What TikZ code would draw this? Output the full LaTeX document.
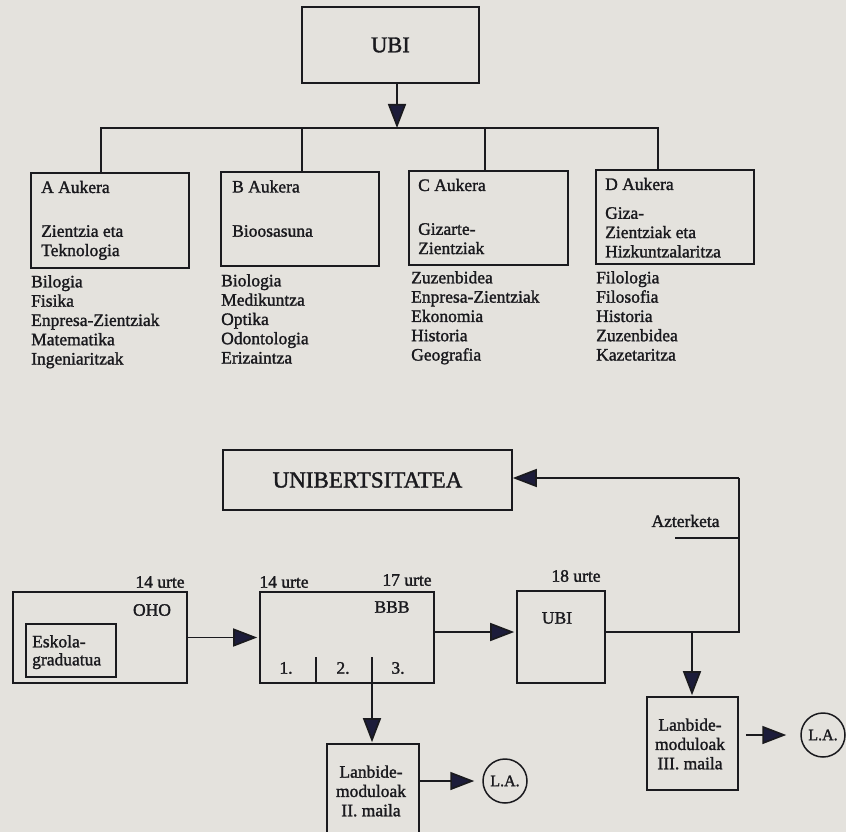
\documentclass[tikz,border=0pt]{standalone}
\usepackage{fontspec}
\setmainfont{Liberation Serif}
\newfontfamily\medserif{Liberation Serif}[FakeBold=1.5]
\usetikzlibrary{arrows.meta, calc}

\definecolor{paper}{RGB}{228,226,221}
\definecolor{ink}{RGB}{26,26,30}
\definecolor{navy}{RGB}{28,28,58}

\newcommand{\txtsize}{\medserif\fontsize{17.5}{19.3}\selectfont}

\tikzset{
  box/.style={draw=ink, line width=1.6pt, inner sep=0pt},
  txt/.style={inner sep=0pt, text=ink, font=\txtsize, align=left},
  conn/.style={draw=ink, line width=1.7pt},
  bus/.style={draw=ink, line width=2.8pt},
  arr/.style={conn, -{Triangle[length=24pt, width=18pt, fill=navy]}},
  lacircle/.style={circle, draw=ink, line width=1.5pt, minimum size=44pt, inner sep=0pt, text=ink, font=\medserif\fontsize{16}{18}\selectfont},
}

\begin{document}
\begin{tikzpicture}[x=1pt, y=-1pt]
    \useasboundingbox (0,0) rectangle (846,832);
    \clip (0,0) rectangle (846,832);
    \fill[paper] (0,0) rectangle (846,832);

    % UBI and the four Aukera
    \path (390.5,45) node[box, minimum width=177pt, minimum height=76pt, text=ink, font=\medserif\fontsize{22.5}{26}\selectfont](UBI){UBI};
    \path (110,220.5) node[box, minimum width=158pt, minimum height=95pt](AukeraA){};
    \path (300,219) node[box, minimum width=158pt, minimum height=94pt](AukeraB){};
    \path (488.5,218) node[box, minimum width=159pt, minimum height=94pt](AukeraC){};
    \path (675,217) node[box, minimum width=158pt, minimum height=94pt](AukeraD){};

    \path (41,187) node[txt, anchor=west](AtitleA){A Aukera};
    \path (41,225) node[txt, anchor=north west](AsubA){Zientzia eta\\Teknologia};
    \path (232,186.5) node[txt, anchor=west](AtitleB){B Aukera};
    \path (232,231) node[txt, anchor=west](AsubB){Bioosasuna};
    \path (418,185) node[txt, anchor=west](AtitleC){C Aukera};
    \path (418,223) node[txt, anchor=north west](AsubC){Gizarte-\\Zientziak};
    \path (605,184) node[txt, anchor=west](AtitleD){D Aukera};
    \path (605,207) node[txt, anchor=north west](AsubD){Giza-\\Zientziak eta\\Hizkuntzalaritza};

    \path (31,275) node[txt, anchor=north west](ListA){Bilogia\\Fisika\\Enpresa-Zientziak\\Matematika\\Ingeniaritzak};
    \path (221,274) node[txt, anchor=north west](ListB){Biologia\\Medikuntza\\Optika\\Odontologia\\Erizaintza};
    \path (411,271) node[txt, anchor=north west](ListC){Zuzenbidea\\Enpresa-Zientziak\\Ekonomia\\Historia\\Geografia};
    \path (596,271) node[txt, anchor=north west](ListD){Filologia\\Filosofia\\Historia\\Zuzenbidea\\Kazetaritza};

    \coordinate (busA) at (101,128);
    \coordinate (busB) at (302,128);
    \coordinate (busC) at (485,128);
    \coordinate (busD) at (658,128);
    \coordinate (busMid) at (397,128);
    \draw[bus] (busA |- AukeraA.north) -- (busA) -- (busD) -- (busD |- AukeraD.north);
    \draw[bus] (busB) -- (busB |- AukeraB.north);
    \draw[bus] (busC) -- (busC |- AukeraC.north);
    \draw[arr] (UBI.south -| busMid) -- (busMid);

    % school path
    \path (367.5,480) node[box, minimum width=289pt, minimum height=60pt, text=ink, font=\medserif\fontsize{23}{26}\selectfont](Uni){UNIBERTSITATEA};
    \path (100,637.5) node[box, minimum width=174pt, minimum height=91pt](OHO){};
    \path (71,650.5) node[box, minimum width=90pt, minimum height=53pt](Eskola){};
    \path (32,635) node[txt, anchor=north west](EskolaTxt){Eskola-\\[-1.3pt]graduatua};
    \path (160,582) node[txt](OHOage){14 urte};
    \path (152,610) node[txt](OHOtxt){OHO};

    \path (347,637.5) node[box, minimum width=174pt, minimum height=91pt](BBB){};
    \path (284,582) node[txt](BBBstart){14 urte};
    \path (407,580) node[txt](BBBend){17 urte};
    \path (392,607) node[txt](BBBtxt){BBB};
    \foreach \x/\n in {286/1, 343/2, 398/3}
        \path (\x,668) node[txt](Year\n){\n.};

    \path (561,637) node[box, minimum width=88pt, minimum height=92pt](UBIbi){};
    \path (557,618) node[txt](UBIbiTxt){UBI};
    \path (576,576) node[txt](UBIage){18 urte};
    \path (685.5,521) node[txt](Azterketa){Azterketa};

    \path (692.5,743.5) node[box, minimum width=91pt, minimum height=93pt](LanbideIII){};
    \path (690,744) node[txt, align=center](LanbideIIItxt){Lanbide-\\moduloak\\III. maila};
    \path (373,797) node[box, minimum width=92pt, minimum height=106pt](LanbideII){};
    \path (371,791) node[txt, align=center](LanbideIItxt){Lanbide-\\moduloak\\II. maila};
    \path (505,781) node[lacircle](LAbi){L.A.};
    \path (823,735) node[lacircle](LAhiru){L.A.};

    \coordinate (split) at (692,632);
    \coordinate (exitR) at (739,632);
    \coordinate (exitT) at (739,478);
    \coordinate (tick) at (675,538);
    \coordinate (div1) at (316,657);
    \coordinate (div2) at (372,657);

    \draw[arr, shorten >=2pt] (OHO.east) -- (BBB.west);
    \draw[arr, shorten >=2pt] (BBB.east |- split) -- (UBIbi.west |- split);
    \draw[conn] (UBIbi.east |- split) -- (exitR) -- (exitT);
    \draw[arr] (exitT) -- (Uni.east |- exitT);
    \draw[conn] (tick) -- (tick -| exitR);
    \draw[arr, shorten >=1pt] (split) -- (split |- LanbideIII.north);
    \draw[conn] (div1) -- (div1 |- BBB.south);
    \draw[arr, shorten >=1pt] (div2) -- (div2 |- LanbideII.north);
    \draw[arr, shorten >=8pt] (LanbideII.east |- LAbi) -- (LAbi);
    \draw[arr, shorten <=7pt, shorten >=14pt] (LanbideIII.east |- LAhiru) -- (LAhiru);
\end{tikzpicture}
\end{document}
